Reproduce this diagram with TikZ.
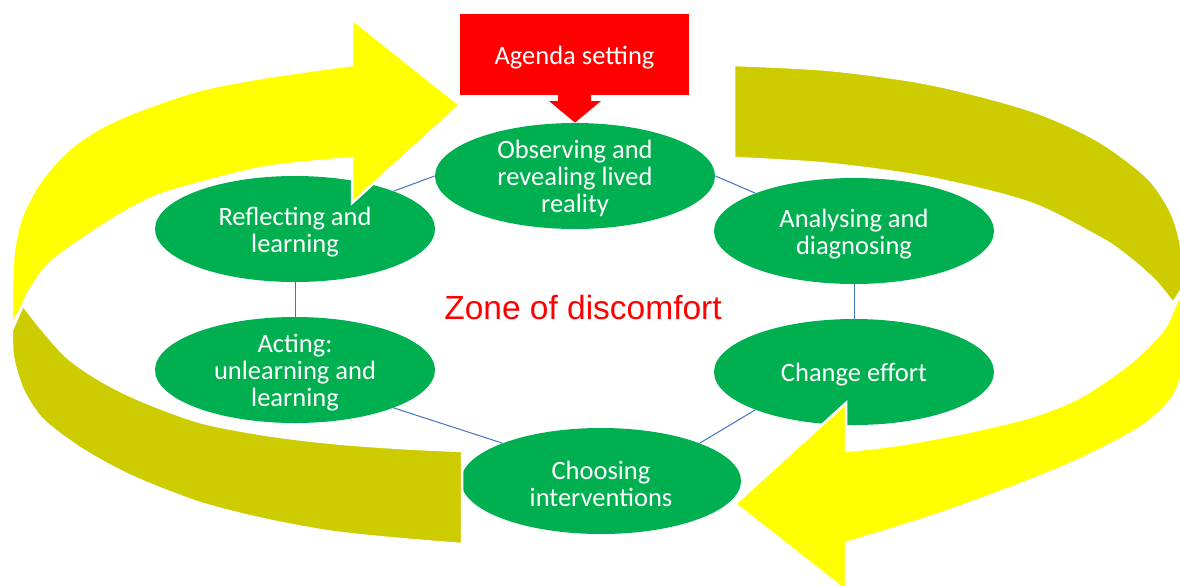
\documentclass[tikz,border=0pt]{standalone}
\usepackage{fontspec}
\setmainfont{Carlito}
\newfontfamily\zonefamily{Liberation Sans}
\usetikzlibrary{shapes.geometric}
\definecolor{stagegreen}{HTML}{00B050}
\definecolor{arrowyellow}{HTML}{FFFF00}
\definecolor{arrowolive}{HTML}{CCCC00}
\definecolor{linkblue}{HTML}{4472C4}
\definecolor{calloutred}{HTML}{FF0000}

\begin{document}
\begin{tikzpicture}[x=0.5pt, y=-0.5pt,
  stagetext/.style={text=white, align=center, font=\fontsize{13.25}{13.5}\selectfont},
  stage/.style={ellipse, fill=stagegreen, minimum width=140pt, minimum height=53pt,
    inner sep=0pt, label={[stagetext, yshift=-1.3pt]center:{#1}}},
  link/.style={draw=linkblue, line width=0.5pt},
  sweep/.style={draw=white, line width=1.25pt, line join=miter},
  bright/.style={sweep, fill=arrowyellow},
  dull/.style={sweep, fill=arrowolive}]

\useasboundingbox (0,0) rectangle (1180,585);

% the six stages of the cycle
\node[stage={Observing and\\revealing lived\\reality}] (obs) at (575,176) {};
\node[stage={Analysing and\\diagnosing}] (ana) at (854,231) {};
\node[stage={Change effort}] (chg) at (854,372) {};
\node[stage={Choosing\\interventions}] (cho) at (601,481) {};
\node[stage={Acting:\\unlearning and\\learning}] (act) at (295,370) {};
\node[stage={Reflecting and\\learning}] (ref) at (295,229) {};

% thin links between neighbouring stages
\draw[link] (ref.21) -- (obs.west);
\draw[link] (obs.east) -- (ana.159);
\draw[link] (ana.south) -- (chg.north);
\draw[link] (chg.201) -- (cho.21);
\draw[link] (cho.159) -- (act.339);
\draw[link] (act.north) -- (ref.south);

% upper-left curved arrow
\path[bright] (12,325) -- (23,305)
  -- plot[smooth] coordinates {(23,305) (30,290) (50,263) (90,234) (125,212) (157,196) (200,183) (267,167) (352,158)}
  -- (352,203) -- (460,105) -- (352,19) -- (352,65)
  -- plot[smooth] coordinates {(352,65) (267,77) (200,90) (140,110) (100,128) (67,151) (40,182) (22,216) (14,250) (12,290) (12,325)}
  -- cycle;

% upper-right band
\path[dull] (734,65)
  -- plot[smooth] coordinates {(734,65) (830,70) (930,84) (1030,110) (1097,140) (1147,177) (1170,210) (1180,240) (1186,283)}
  -- (1173,303)
  -- plot[smooth] coordinates {(1173,303) (1157,283) (1140,267) (1120,251) (1100,238) (1030,203) (930,178) (830,164) (734,158)}
  -- cycle;

% lower-left band
\path[dull] (462,544)
  -- plot[smooth] coordinates {(462,544) (400,539) (333,532) (267,520) (200,503) (133,477) (83,450) (43,420) (23,390) (13,357) (12,330)}
  -- (23,305)
  -- plot[smooth] coordinates {(23,305) (40,327) (67,357) (100,380) (140,400) (200,422) (267,435) (333,443) (400,448) (462,451)}
  -- cycle;

% lower-right curved arrow
\path[bright] (1186,285) -- (1175,305)
  -- plot[smooth] coordinates {(1175,305) (1163,330) (1130,363) (1080,397) (1030,417) (963,433) (897,445) (846,451)}
  -- (846,403) -- (735,504) -- (846,591) -- (846,543)
  -- plot[smooth] coordinates {(846,543) (930,517) (997,493) (1063,467) (1113,443) (1147,423) (1173,397) (1183,370) (1187,330) (1186,285)}
  -- cycle;

% agenda callout
\node[fill=calloutred, minimum width=114.5pt, minimum height=40.5pt, inner sep=0pt,
  label={[stagetext, yshift=-1.5pt]center:Agenda setting}] (agenda) at (574.5,54.5) {};
\fill[calloutred] (558,94) -- (558,101) -- (549,101) -- (obs.north) -- (601,101) -- (591,101) -- (591,94) -- cycle;

% centre caption
\node[text=calloutred, font=\zonefamily\fontsize{16.75}{20}\selectfont, inner sep=0pt] (zone) at (583,308) {Zone of discomfort};
\end{tikzpicture}
\end{document}
